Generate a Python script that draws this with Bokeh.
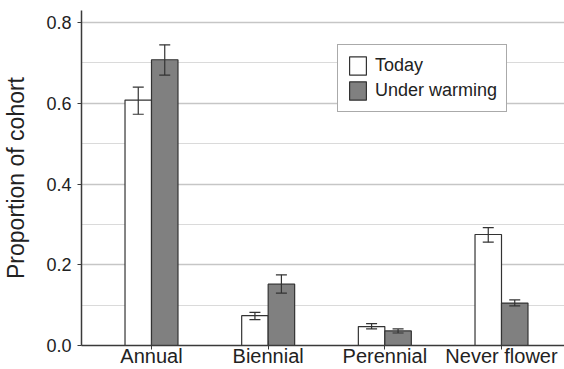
import numpy as np
from bokeh.plotting import figure
from bokeh.models import (ColumnDataSource, FixedTicker, PrintfTickFormatter, Whisker,
                          TeeHead, Legend, LegendItem, Range1d)
from bokeh.embed import file_html
from bokeh.resources import INLINE

# ---- data ----
categories = ["Annual", "Biennial", "Perennial", "Never flower"]
today = [0.608, 0.074, 0.047, 0.275]
today_lower = [0.573, 0.064, 0.041, 0.256]
today_upper = [0.640, 0.082, 0.054, 0.292]
warming = [0.708, 0.152, 0.036, 0.105]
warming_lower = [0.670, 0.130, 0.031, 0.098]
warming_upper = [0.745, 0.175, 0.041, 0.113]
y_ticks = [0.0, 0.2, 0.4, 0.6, 0.8]
y_minor = [0.1, 0.3, 0.5, 0.7]
series_names = ["Today", "Under warming"]

FONT = "Liberation Sans"
TXT = "#222222"
EDGE = "#333333"
AXIS = "#3a3a3a"

pos = np.arange(1, len(categories) + 1, dtype=float)
bar_w = 0.227
off = bar_w / 2

src_today = ColumnDataSource(dict(x=pos - off, top=today, lower=today_lower, upper=today_upper))
src_warm = ColumnDataSource(dict(x=pos + off, top=warming, lower=warming_lower, upper=warming_upper))

p = figure(width=564, height=369, output_backend="svg", toolbar_location=None,
           x_range=Range1d(0.40, 4.54), y_range=Range1d(0, 0.83),
           min_border_left=81, min_border_right=0, min_border_top=10, min_border_bottom=0)
p.outline_line_color = None
p.background_fill_color = "white"
p.border_fill_color = "white"

r_today = p.vbar(x="x", top="top", width=bar_w, source=src_today,
                 fill_color="white", line_color=EDGE, line_width=1.2)
r_warm = p.vbar(x="x", top="top", width=bar_w, source=src_warm,
                fill_color="#808080", line_color=EDGE, line_width=1.2)

for src in (src_today, src_warm):
    w = Whisker(source=src, base="x", upper="upper", lower="lower", level="overlay",
                line_color=EDGE, line_width=1.2,
                upper_head=TeeHead(size=11, line_color=EDGE, line_width=1.2),
                lower_head=TeeHead(size=11, line_color=EDGE, line_width=1.2))
    p.add_layout(w)

# y axis
p.yaxis.ticker = FixedTicker(ticks=y_ticks, minor_ticks=y_minor)
p.yaxis.formatter = PrintfTickFormatter(format="%.1f")
p.yaxis.axis_label = "Proportion of cohort"
p.yaxis.axis_label_text_font = FONT
p.yaxis.axis_label_text_font_size = "23px"
p.yaxis.axis_label_text_font_style = "normal"
p.yaxis.axis_label_text_color = TXT
p.yaxis.axis_label_standoff = 14
p.yaxis.major_label_text_font = FONT
p.yaxis.major_label_text_font_size = "18px"
p.yaxis.major_label_text_color = TXT
p.yaxis.major_label_standoff = 6
p.yaxis.major_tick_in = 0
p.yaxis.major_tick_out = 4
p.yaxis.minor_tick_line_color = None
p.yaxis.axis_line_color = AXIS
p.yaxis.axis_line_width = 1.5
p.yaxis.major_tick_line_color = AXIS

# x axis
p.xaxis.ticker = FixedTicker(ticks=list(pos))
p.xaxis.major_label_overrides = {float(x): c for x, c in zip(pos, categories)}
p.xaxis.major_label_text_font = FONT
p.xaxis.major_label_text_font_size = "20px"
p.xaxis.major_label_text_color = TXT
p.xaxis.major_label_standoff = -5
p.xaxis.major_tick_in = 5
p.xaxis.major_tick_out = 4
p.xaxis.minor_tick_line_color = None
p.xaxis.axis_line_color = AXIS
p.xaxis.axis_line_width = 1.5
p.xaxis.major_tick_line_color = AXIS

# grid
p.xgrid.grid_line_color = None
p.ygrid.grid_line_color = "#c6c6c6"
p.ygrid.grid_line_width = 1.3
p.ygrid.minor_grid_line_color = "#dadada"
p.ygrid.minor_grid_line_width = 1

legend = Legend(items=[LegendItem(label=series_names[0], renderers=[r_today]),
                       LegendItem(label=series_names[1], renderers=[r_warm])],
                location=(256, 233))
legend.label_text_font = FONT
legend.label_text_font_size = "18px"
legend.label_text_color = TXT
legend.glyph_width = 21
legend.glyph_height = 23
legend.label_height = 23
legend.spacing = 2
legend.padding = 9
legend.margin = 0
legend.label_standoff = 7
legend.border_line_color = "#555555"
legend.border_line_width = 1
legend.background_fill_color = "white"
legend.background_fill_alpha = 1
p.add_layout(legend)

open("out.html", "w").write(file_html(p, INLINE))
